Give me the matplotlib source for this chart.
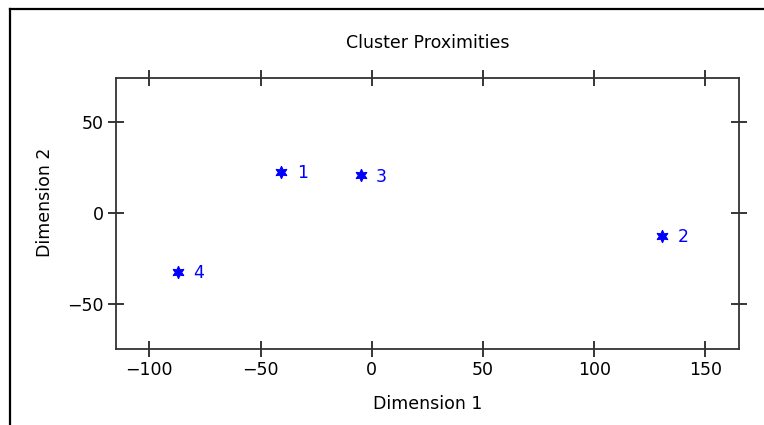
import matplotlib
matplotlib.use("Agg")
import matplotlib.pyplot as plt
from matplotlib.lines import Line2D

# cluster coordinates
cluster_ids = ["1", "2", "3", "4"]
dim1 = [-40.6, 130.5, -4.9, -87.0]
dim2 = [22.7, -12.5, 20.9, -32.3]

xticks = [-100, -50, 0, 50, 100, 150]
yticks = [-50, 0, 50]

plt.rcParams['font.family'] = ['DejaVu Sans']
FS = 12.5

fig = plt.figure(figsize=(7.64, 4.25), dpi=100)
ax = fig.add_axes([0.1518, 0.1781, 0.8151, 0.6384])

ax.plot(dim1, dim2, linestyle='none', marker=(6, 1, 0), markersize=9,
        color='#0000ff', markeredgewidth=0.8)
for lab, x, y in zip(cluster_ids, dim1, dim2):
    ax.annotate(lab, (x, y), xytext=(11, -1), textcoords='offset points',
                ha='left', va='center', fontsize=FS, color='#0000ff')

ax.set_xlim(-115, 165)
ax.set_ylim(-75, 74.5)
ax.set_xticks(xticks)
ax.set_yticks(yticks)
ax.set_xticklabels([str(t).replace('-', '\u2212') for t in xticks])
ax.set_yticklabels([str(t).replace('-', '\u2212') for t in yticks])

ax.tick_params(direction='inout', length=11.5, width=1.1, color='black',
               top=True, right=True, labelsize=FS, pad=3)
for s in ax.spines.values():
    s.set_color('#333333')
    s.set_linewidth(1.3)

ax.set_xlabel('Dimension 1', fontsize=FS)
ax.set_ylabel('Dimension 2', fontsize=FS)
ax.xaxis.set_label_coords(0.5, -0.17)
ax.yaxis.set_label_coords(-0.1, 0.54)

ax.text(0.5, 1.1106, 'Cluster Proximities', transform=ax.transAxes,
        ha='center', va='baseline', fontsize=FS)

# outer frame (left and top edges only)
W, H = 764, 425
fig.add_artist(Line2D([10 / W, 10 / W], [0, 1 - 9 / H], color='black',
                      linewidth=1.6, transform=fig.transFigure))
fig.add_artist(Line2D([10 / W, 763 / W], [1 - 9 / H, 1 - 9 / H], color='black',
                      linewidth=1.6, transform=fig.transFigure))

fig.savefig('out.png', dpi=100)
